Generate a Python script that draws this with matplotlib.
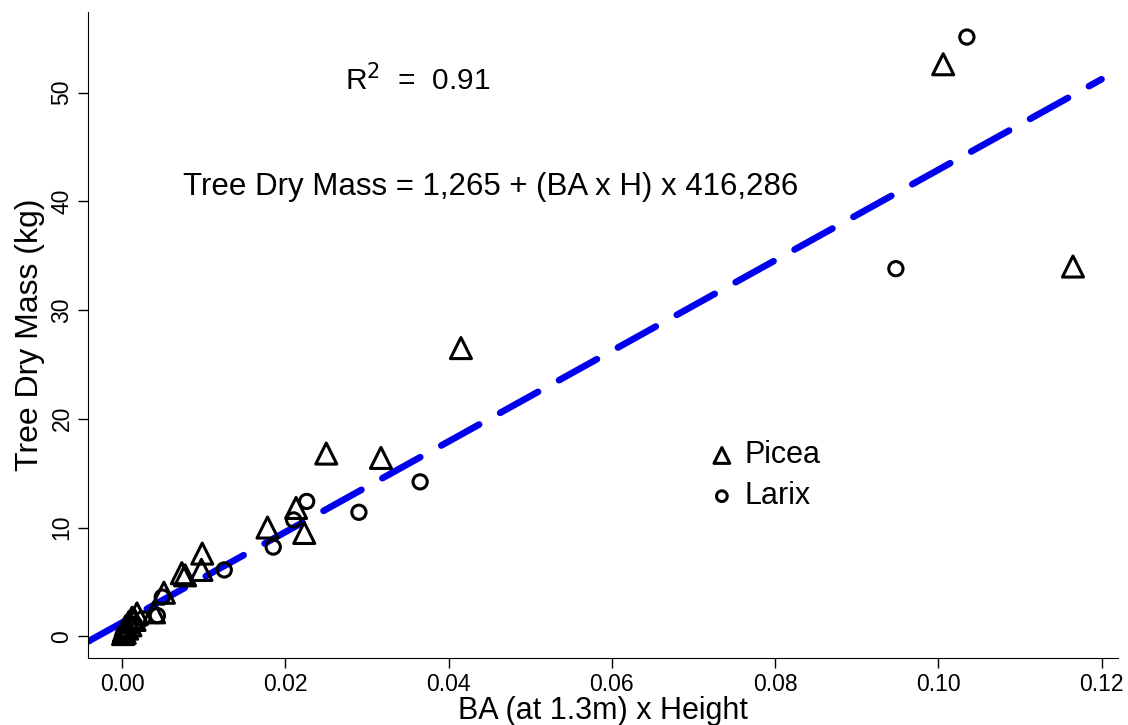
import matplotlib
matplotlib.use("Agg")
import matplotlib.pyplot as plt
import numpy as np

plt.rcParams['font.family'] = ['Liberation Sans', 'DejaVu Sans']

# Picea (triangles)
picea_x = [0.1006, 0.1165, 0.0415, 0.0250, 0.0317, 0.0213, 0.0178, 0.0223,
           0.0098, 0.0097, 0.0073, 0.0077, 0.0051, 0.0039, 0.0018, 0.0012,
           0.0008, 0.0004, 0.0002, 0.0001, 0.0006, 0.0003, 0.0010, 0.0015]
picea_y = [52.6, 34.0, 26.5, 16.8, 16.4, 11.8, 10.0, 9.5,
           7.6, 6.1, 5.8, 5.6, 4.0, 2.2, 2.1, 1.7,
           1.3, 0.9, 0.5, 0.2, 0.7, 0.3, 1.0, 1.5]
# Larix (circles)
larix_x = [0.1035, 0.0948, 0.0365, 0.0290, 0.0226, 0.0210, 0.0185, 0.0125,
           0.0049, 0.0043, 0.0025, 0.0015, 0.0009, 0.0005, 0.0002, 0.0001]
larix_y = [55.1, 33.8, 14.2, 11.4, 12.4, 10.7, 8.2, 6.1,
           3.6, 1.9, 1.6, 1.1, 0.8, 0.5, 0.3, 0.1]

intercept = 1.265
slope = 416.286

fig = plt.figure(figsize=(11.28, 7.25), dpi=100)
ax = fig.add_axes([0.078, 0.0924, 0.913, 0.891])

ax.scatter(picea_x, picea_y, marker='^', s=230, facecolors='none',
           edgecolors='black', linewidths=2.2, label='Picea', zorder=3)
ax.scatter(larix_x, larix_y, marker='o', s=105, facecolors='none',
           edgecolors='black', linewidths=2.2, label='Larix', zorder=3)

xlim = (-0.0042, 0.1220)
xs = np.array([xlim[0], 0.1200])
ax.plot(xs, intercept + slope * xs, color='#0000ee', lw=4.8,
        dashes=(6.5, 3.6), dash_capstyle='round', zorder=2)

ax.set_xlim(*xlim)
ax.set_ylim(-2.0, 57.4)
ax.set_xticks([0.00, 0.02, 0.04, 0.06, 0.08, 0.10, 0.12])
ax.set_xticklabels(['0.00', '0.02', '0.04', '0.06', '0.08', '0.10', '0.12'])
ax.set_yticks([0, 10, 20, 30, 40, 50])
for lab in ax.get_yticklabels():
    lab.set_rotation(90)
    lab.set_va('center')
ax.tick_params(labelsize=16.5, length=7, width=1, direction='out')
ax.spines['top'].set_visible(False)
ax.spines['right'].set_visible(False)
ax.set_xlabel('BA (at 1.3m) x Height', fontsize=22, labelpad=0)
ax.set_ylabel('Tree Dry Mass (kg)', fontsize=23, labelpad=4)

ax.text(0.0273, 51.1, r'R$^2$  =  0.91', fontsize=21.5, va='center', ha='left')
ax.text(0.0451, 41.3, 'Tree Dry Mass = 1,265 + (BA x H) x 416,286',
        fontsize=22.5, va='center', ha='center')

ax.legend(loc='center left', bbox_to_anchor=(0.571, 0.282), frameon=False,
          fontsize=22, handletextpad=0.15, labelspacing=0.35,
          markerscale=0.75, handlelength=1.2)

fig.savefig('out.png', dpi=100)
